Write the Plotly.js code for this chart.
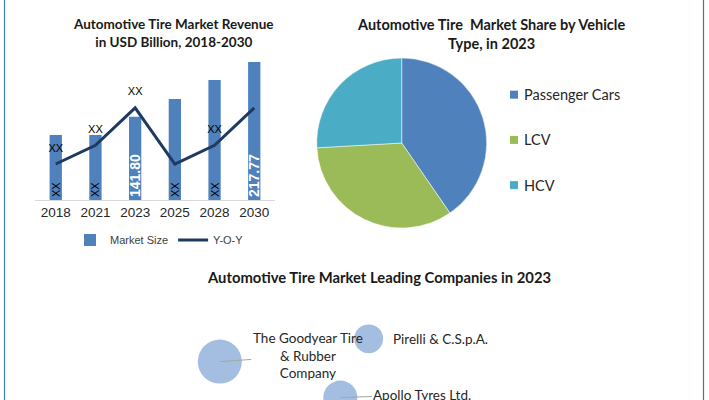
<!DOCTYPE html>
<html>
<head>
<meta charset="utf-8">
<script src="https://cdn.plot.ly/plotly-3.0.1.min.js"></script>
<style>
  html, body { margin: 0; padding: 0; background: #fff; }
  #chart { width: 709px; height: 400px; }
</style>
</head>
<body>
<div id="chart"></div>
<script>
// revenue chart
const years = ['2018', '2021', '2023', '2025', '2028', '2030'];
const marketSize = [116.4, 116.4, 141.80, 166.4, 192.8, 217.77];
const barLabels = ['XX', 'XX', '141.80', 'XX', 'XX', '217.77'];
const yoy = [2.5, 3.8, 6.4, 2.5, 3.8, 6.4];
const yoyLabels = ['XX', 'XX', 'XX', '', 'XX', ''];

// share by vehicle type
const vehicleTypes = ['Passenger Cars', 'LCV', 'HCV'];
const vehicleShare = [40.4, 33.7, 25.9];
const vehicleColors = ['#4f81bd', '#9bbb59', '#4bacc6'];

// leading companies (bubble positions on a hidden 0-100 grid)
const companies = ['The Goodyear Tire<br>& Rubber<br>Company', 'Pirelli & C.S.p.A.', 'Apollo Tyres Ltd.'];
const companyX = [31, 52, 48];
const companyY = [32, 51, 2];
const companySize = [11, 7.2, 8.5];

const W = 709, H = 400;
const px = v => v / W;
const py = v => 1 - v / H;
const axisMin = 26.1;
const titleFont = { family: 'Lato, "Open Sans", sans-serif', size: 14, color: '#1a1a1a', weight: 700 };
const bodyFont = { family: 'Lato, "Open Sans", sans-serif', size: 13.5, color: '#262626' };

// bars start at the bottom of the (non-zero) value axis
const bars = {
    type: 'bar',
    x: years,
    y: marketSize.map(v => v - axisMin),
    base: axisMin,
    name: 'Market Size',
    marker: { color: '#4f81bd' },
    text: barLabels,
    textposition: 'inside',
    textangle: -90,
    insidetextanchor: 'start',
    constraintext: 'none',
    textfont: {
        family: '"Liberation Sans", Arial, sans-serif',
        size: barLabels.map(t => t === 'XX' ? 11 : 14),
        color: barLabels.map(t => t === 'XX' ? '#000000' : '#ffffff'),
        weight: barLabels.map(t => t === 'XX' ? 400 : 700)
    },
    hoverinfo: 'x+text'
};

const yoyLine = {
    type: 'scatter',
    mode: 'lines+markers+text',
    x: years,
    y: yoy,
    yaxis: 'y2',
    name: 'Y-O-Y',
    line: { color: '#1f3a60', width: 3 },
    marker: { size: 14, color: 'rgba(0,0,0,0)' },
    text: yoyLabels,
    textposition: 'top center',
    textfont: { family: '"Liberation Sans", Arial, sans-serif', size: 11, color: '#000000' },
    cliponaxis: false
};

const pie = {
    type: 'pie',
    labels: vehicleTypes,
    values: vehicleShare,
    marker: { colors: vehicleColors, line: { color: '#ffffff', width: 0.5 } },
    sort: false,
    direction: 'clockwise',
    rotation: 0,
    textinfo: 'none',
    showlegend: false,
    domain: { x: [px(316.7), px(486.7)], y: [py(228), py(58)] }
};

const bubbles = {
    type: 'scatter',
    mode: 'markers',
    x: companyX,
    y: companyY,
    xaxis: 'x3',
    yaxis: 'y3',
    text: companies,
    hoverinfo: 'text',
    showlegend: false,
    cliponaxis: false,
    marker: { size: companySize, sizemode: 'diameter', sizeref: 0.25, color: '#7ca2d3', line: { width: 0 } }
};

function title(text, x, y, size) {
    return { text: text, x: px(x), y: py(y), xref: 'paper', yref: 'paper', xanchor: 'center', yanchor: 'middle',
        showarrow: false, font: Object.assign({}, titleFont, { size: size }) };
}

const annotations = [
    title('Automotive Tire Market Revenue<br>in USD Billion, 2018-2030', 173.5, 33, 13.5),
    title('Automotive Tire  Market Share by Vehicle<br>Type, in 2023', 491, 34, 14.5),
    title('Automotive Tire Market Leading Companies in 2023', 379.5, 277, 14.8)
];

// pie legend
const shapes = [];
vehicleTypes.forEach((name, i) => {
    const cy = 94.7 + i * 45.2;
    annotations.push({ text: name, x: px(522), y: py(cy), xref: 'paper', yref: 'paper',
        xanchor: 'left', yanchor: 'middle', showarrow: false,
        font: Object.assign({}, bodyFont, { size: 14.5 }) });
    shapes.push({ type: 'rect', xref: 'paper', yref: 'paper', x0: px(510), x1: px(518),
        y0: py(cy + 4), y1: py(cy - 4), fillcolor: vehicleColors[i], line: { width: 0 } });
});

// company labels
const labelOffsets = [[88, -6], [null, null], [82, -3]];
companies.forEach((name, i) => {
    if (labelOffsets[i][0] === null) {
        annotations.push({ text: name, x: companyX[i], y: companyY[i], xref: 'x3', yref: 'y3',
            showarrow: false, xanchor: 'left', yanchor: 'middle', xshift: 22, font: bodyFont });
    } else {
        annotations.push({ text: name, x: companyX[i], y: companyY[i], xref: 'x3', yref: 'y3',
            showarrow: true, arrowhead: 0, arrowwidth: 1, arrowcolor: '#a6a6a6',
            ax: labelOffsets[i][0], ay: labelOffsets[i][1], font: bodyFont });
    }
});

// frame lines on the left and right
shapes.push({ type: 'line', xref: 'paper', yref: 'paper', x0: px(4.5), x1: px(4.5), y0: 0, y1: 1,
    line: { color: '#3d7cd0', width: 1.2 } });
shapes.push({ type: 'line', xref: 'paper', yref: 'paper', x0: px(703.5), x1: px(703.5), y0: 0, y1: 1,
    line: { color: '#4a6fb0', width: 1.2 } });

const layout = {
    width: W,
    height: H,
    margin: { l: 0, r: 0, t: 0, b: 0 },
    paper_bgcolor: '#ffffff',
    plot_bgcolor: 'rgba(0,0,0,0)',
    font: { family: '"Liberation Sans", Arial, sans-serif', color: '#262626' },
    bargap: 0.69,
    xaxis: {
        domain: [px(35), px(275)],
        type: 'category',
        showline: true,
        linecolor: '#d9d9d9',
        linewidth: 1,
        ticks: '',
        showgrid: false,
        tickfont: { family: '"Liberation Sans", Arial, sans-serif', size: 13.5, color: '#262626' },
        fixedrange: true
    },
    yaxis: {
        domain: [py(200), py(56)],
        range: [axisMin, 226.1],
        visible: false,
        fixedrange: true
    },
    yaxis2: {
        overlaying: 'y',
        range: [0, 10],
        visible: false,
        fixedrange: true
    },
    xaxis3: { domain: [0, 1], range: [0, 100], visible: false, fixedrange: true },
    yaxis3: { domain: [0, 0.3], range: [0, 100], visible: false, fixedrange: true },
    showlegend: true,
    legend: {
        orientation: 'h',
        x: px(70),
        y: py(240),
        xanchor: 'left',
        yanchor: 'middle',
        font: { family: '"Liberation Sans", Arial, sans-serif', size: 11, color: '#404040' },
        bgcolor: 'rgba(0,0,0,0)'
    },
    annotations: annotations,
    shapes: shapes
};

Plotly.newPlot('chart', [bars, yoyLine, pie, bubbles], layout, { displayModeBar: false, staticPlot: true });
</script>
</body>
</html>
